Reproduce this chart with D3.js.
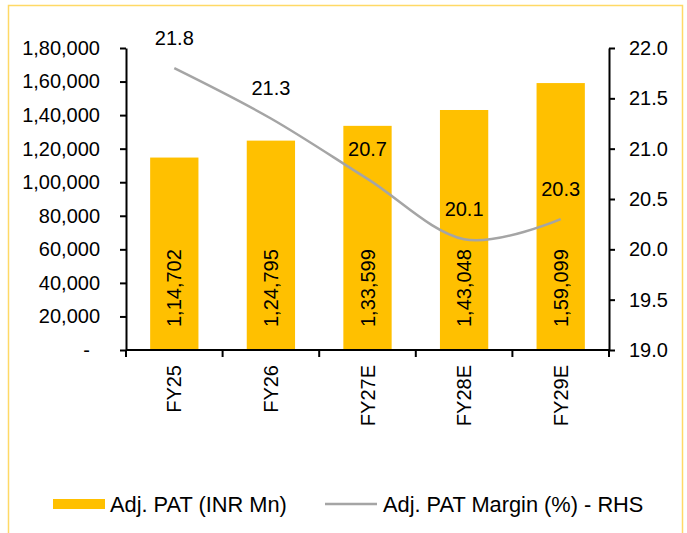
<!DOCTYPE html>
<html>
<head>
<meta charset="utf-8">
<script src="https://cdn.jsdelivr.net/npm/d3@7"></script>
<style>
  body { margin: 0; background: #fff; }
  svg text { font-family: "Liberation Sans", Arial, sans-serif; fill: #000; }
</style>
</head>
<body>
<svg id="chart" width="687" height="533"></svg>
<script>
// data
var years = ['FY25', 'FY26', 'FY27E', 'FY28E', 'FY29E'];
var pat = [114702, 124795, 133599, 143048, 159099];
var margin = [21.8, 21.3, 20.7, 20.1, 20.3];
var leftTicks = [0, 20000, 40000, 60000, 80000, 100000, 120000, 140000, 160000, 180000];
var rightTicks = [19.0, 19.5, 20.0, 20.5, 21.0, 21.5, 22.0];

var svg = d3.select('#chart');
var fs = 20;

// frame
svg.append('rect')
  .attr('x', 8.5).attr('y', 5.5)
  .attr('width', 674).attr('height', 540)
  .attr('fill', 'none')
  .attr('stroke', '#FFD966')
  .attr('stroke-width', 1.5);

var x = d3.scaleBand().domain(years).range([126, 609]).paddingInner(0.5).paddingOuter(0.25);
var xEdge = d3.scaleLinear().domain([0, years.length]).range([126, 609]);
var yL = d3.scaleLinear().domain([0, 180000]).range([350, 48]);
var yR = d3.scaleLinear().domain([19, 22]).range([350, 48]);

// indian grouping: 1,14,702
function inr(v) {
  if (v === 0) return '-';
  var s = String(Math.round(v));
  if (s.length <= 3) return s;
  var last = s.slice(-3), rest = s.slice(0, -3);
  rest = rest.replace(/\B(?=(\d{2})+(?!\d))/g, ',');
  return rest + ',' + last;
}

// bars
svg.selectAll('rect.bar')
  .data(pat)
  .enter()
  .append('rect')
  .attr('class', 'bar')
  .attr('x', function(d, i) { return x(years[i]); })
  .attr('y', function(d) { return yL(d); })
  .attr('width', x.bandwidth())
  .attr('height', function(d) { return yL(0) - yL(d); })
  .attr('fill', '#FFC000');

// bar value labels, rotated
svg.selectAll('text.barlab')
  .data(pat)
  .enter()
  .append('text')
  .attr('class', 'barlab')
  .attr('transform', function(d, i) {
    return 'translate(' + (x(years[i]) + x.bandwidth() / 2) + ',' + (yL(0) - 23) + ') rotate(-90)';
  })
  .attr('dy', '0.35em')
  .attr('text-anchor', 'start')
  .style('font-size', fs + 'px')
  .text(function(d) { return inr(d); });

// margin line (excel style smoothing)
var line = d3.line()
  .x(function(d, i) { return x(years[i]) + x.bandwidth() / 2; })
  .y(function(d) { return yR(d); })
  .curve(d3.curveCardinal.tension(0));

svg.append('path')
  .datum(margin)
  .attr('d', line)
  .attr('fill', 'none')
  .attr('stroke', '#A5A5A5')
  .attr('stroke-width', 2.5);

svg.selectAll('text.linelab')
  .data(margin)
  .enter()
  .append('text')
  .attr('class', 'linelab')
  .attr('x', function(d, i) { return x(years[i]) + x.bandwidth() / 2; })
  .attr('y', function(d) { return yR(d) - 23; })
  .attr('text-anchor', 'middle')
  .style('font-size', fs + 'px')
  .text(function(d) { return d.toFixed(1); });

// left axis
var gL = svg.append('g')
  .attr('transform', 'translate(126,0)')
  .call(d3.axisLeft(yL).tickValues(leftTicks).tickSize(6).tickSizeOuter(0).tickPadding(20).tickFormat(inr));
// excel puts the zero dash a bit further in
gL.selectAll('.tick text').filter(function(d) { return d === 0; }).attr('dx', -10);

// right axis
var gR = svg.append('g')
  .attr('transform', 'translate(609,0)')
  .call(d3.axisRight(yR).tickValues(rightTicks).tickSize(6).tickSizeOuter(0).tickPadding(14).tickFormat(d3.format('.1f')));

// bottom axis with ticks on category boundaries
var gB = svg.append('g').attr('transform', 'translate(0,350)');
gB.append('line')
  .attr('x1', xEdge(0)).attr('x2', xEdge(years.length))
  .attr('stroke', '#000').attr('stroke-width', 2);
gB.selectAll('line.tk')
  .data(d3.range(years.length + 1))
  .enter()
  .append('line')
  .attr('class', 'tk')
  .attr('x1', function(d) { return xEdge(d); })
  .attr('x2', function(d) { return xEdge(d); })
  .attr('y1', 0).attr('y2', 7)
  .attr('stroke', '#000').attr('stroke-width', 2);
gB.selectAll('text')
  .data(years)
  .enter()
  .append('text')
  .attr('transform', function(d) { return 'translate(' + (x(d) + x.bandwidth() / 2) + ',15) rotate(-90)'; })
  .attr('dy', '0.35em')
  .attr('text-anchor', 'end')
  .style('font-size', fs + 'px')
  .text(function(d) { return d; });

[gL, gR].forEach(function(g) {
  g.select('.domain').attr('stroke', '#000').attr('stroke-width', 2);
  g.selectAll('.tick line').attr('stroke', '#000').attr('stroke-width', 2);
  g.selectAll('.tick text').style('font-size', fs + 'px').attr('fill', '#000');
});

// legend
var lfs = 21.8;
var lg = svg.append('g');
lg.append('rect')
  .attr('x', 53).attr('y', 499).attr('width', 52).attr('height', 10)
  .attr('fill', '#FFC000');
lg.append('text')
  .attr('x', 110).attr('y', 504).attr('dy', '0.35em')
  .style('font-size', lfs + 'px')
  .text('Adj. PAT (INR Mn)');
lg.append('line')
  .attr('x1', 325).attr('x2', 377).attr('y1', 504).attr('y2', 504)
  .attr('stroke', '#A5A5A5').attr('stroke-width', 2.5);
lg.append('text')
  .attr('x', 383).attr('y', 504).attr('dy', '0.35em')
  .style('font-size', lfs + 'px')
  .text('Adj. PAT Margin (%) - RHS');
</script>
</body>
</html>
